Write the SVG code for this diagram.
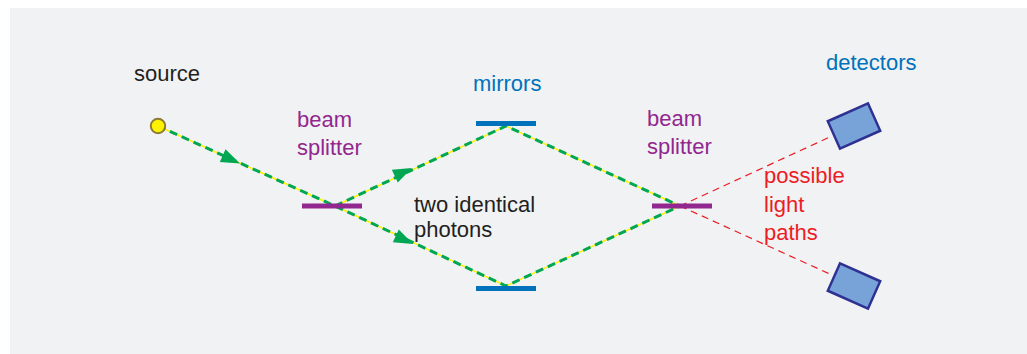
<svg xmlns="http://www.w3.org/2000/svg" width="1027" height="354" viewBox="0 0 1027 354">
<style>
text{font-family:"Liberation Sans",Arial,sans-serif;font-size:22px}
.k{fill:#231f20}.b{fill:#0072bc}.p{fill:#92278f}.r{fill:#ed1c24}
.yl{fill:none;stroke:#fff200;stroke-width:1.4}
.gd{fill:none;stroke:#00a651;stroke-width:3;stroke-dasharray:8 5}
.rd{fill:none;stroke:#ed1c24;stroke-width:1.2;stroke-dasharray:7 5}
.det{fill:#77a3d9;stroke:#2e3192;stroke-width:2.5}
</style>
<defs>
<path id="arr" d="M0,0 L-19,-7 L-19,7 Z" fill="#00a651"/>
</defs>
<rect x="10" y="8" width="1017" height="346" fill="#f1f2f4"/>
<g id="connectors">
<polyline class="yl" points="158,126 335,206 506,286 680,206"/>
<polyline class="gd" points="158,126 335,206 506,286 680,206"/>
<polyline class="yl" points="335,206 506,126 680,206"/>
<polyline class="gd" points="335,206 506,126 680,206"/>
<line class="rd" x1="680" y1="206" x2="832" y2="136"/>
<line class="rd" x1="680" y1="206" x2="832" y2="275"/>
<use href="#arr" transform="translate(240,163.5) rotate(24.3)"/>
<use href="#arr" transform="translate(412,168) rotate(-25.1)"/>
<use href="#arr" transform="translate(413,244) rotate(25.1)"/>
</g>
<g id="source">
<circle cx="158" cy="126" r="7.2" fill="#fff200" stroke="#8c7b35" stroke-width="2"/>
<text class="k" x="134" y="81">source</text>
</g>
<g id="beamsplitter1">
<rect x="302" y="203.5" width="60" height="5" fill="#92278f"/>
<text class="p" x="297" y="127">beam</text>
<text class="p" x="297" y="155">splitter</text>
</g>
<g id="mirror-top">
<rect x="476" y="121" width="60" height="5" fill="#0072bc"/>
<text class="b" x="473" y="91">mirrors</text>
</g>
<g id="mirror-bottom">
<rect x="476" y="286" width="60" height="5" fill="#0072bc"/>
</g>
<g id="photons">
<text class="k" x="414" y="212">two identical</text>
<text class="k" x="414" y="237">photons</text>
</g>
<g id="beamsplitter2">
<rect x="652" y="203.5" width="60" height="5" fill="#92278f"/>
<text class="p" x="647" y="126">beam</text>
<text class="p" x="647" y="154">splitter</text>
</g>
<g id="paths-label">
<text class="r" x="764" y="183">possible</text>
<text class="r" x="764" y="212">light</text>
<text class="r" x="764" y="240">paths</text>
</g>
<g id="detectors">
<text class="b" x="826" y="70">detectors</text>
<rect class="det" x="-22" y="-15" width="44" height="30" transform="translate(854,126) rotate(-24)"/>
<rect class="det" x="-22" y="-15" width="44" height="30" transform="translate(854,286) rotate(24)"/>
</g>
</svg>
